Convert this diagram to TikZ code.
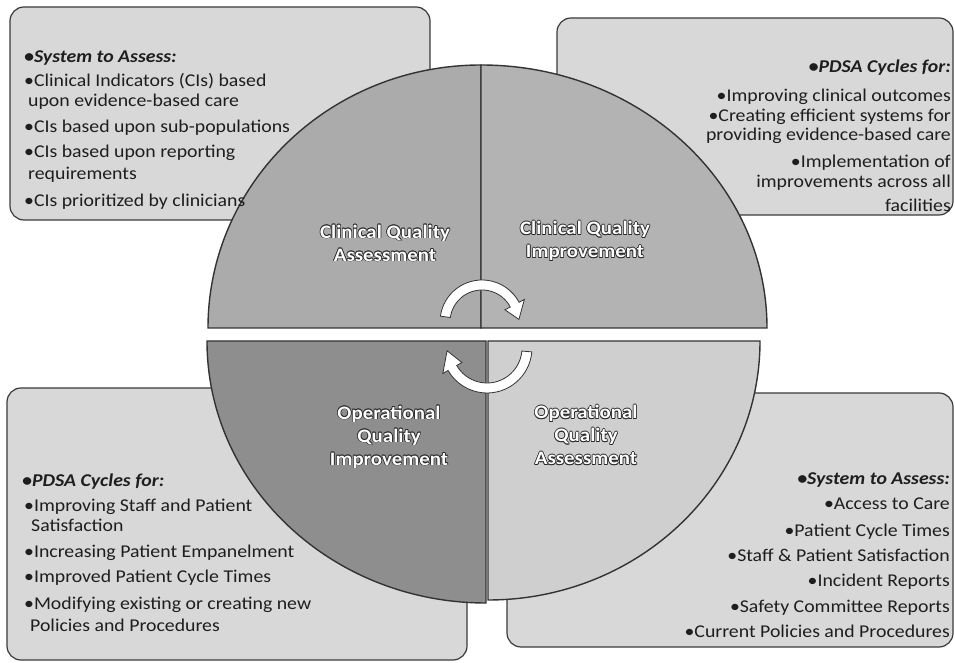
\documentclass[tikz,border=0pt]{standalone}
\usepackage{fontspec}
\setmainfont{Carlito}[FakeStretch=1.1]
\usetikzlibrary{calc}

\definecolor{boxfill}{HTML}{D8D8D8}
\definecolor{boxline}{HTML}{3A3A3A}
\definecolor{qca}{HTML}{ABABAB}
\definecolor{qci}{HTML}{B3B3B3}
\definecolor{qoi}{HTML}{8E8E8E}
\definecolor{qoa}{HTML}{CFCFCF}
\definecolor{inktext}{HTML}{1E1E1E}
\definecolor{rimc}{HTML}{2A2A2A}

% white lettering with a dark rim
\newcommand{\rim}[1]{%
  \leavevmode\setbox0=\hbox{#1}%
  \rlap{\color{rimc}\kern-0.7pt\copy0}%
  \rlap{\color{rimc}\kern0.7pt\copy0}%
  \rlap{\color{rimc}\raise0.7pt\copy0}%
  \rlap{\color{rimc}\lower0.7pt\copy0}%
  \rlap{\color{rimc}\kern-0.5pt\raise0.5pt\copy0}%
  \rlap{\color{rimc}\kern0.5pt\raise0.5pt\copy0}%
  \rlap{\color{rimc}\kern-0.5pt\lower0.5pt\copy0}%
  \rlap{\color{rimc}\kern0.5pt\lower0.5pt\copy0}%
  \box0}

\tikzset{
  infobox/.style={draw=boxline, line width=1.2pt, fill=boxfill, rounded corners=14pt},
  quad/.style={draw=black!80, line width=1.4pt},
  txt/.style={inner sep=0pt, text=inktext, font=\fontsize{18}{20}\selectfont},
  hdr/.style={txt, font=\fontsize{18}{20}\selectfont\bfseries\itshape},
  qlabel/.style={text=white, align=center, font=\fontsize{19}{23}\selectfont\bfseries},
  cyc/.style={fill=white, draw=black!80, line width=0.8pt}
}

\begin{document}
\begin{tikzpicture}[x=1pt,y=1pt]
    \useasboundingbox (0,0) rectangle (955,663);
    % boxes behind the wheel
    \draw[infobox] (10,656) rectangle (430,443);
    \draw[infobox] (557,645) rectangle (953,448);
    \draw[infobox] (7,275) rectangle (467,3);
    \draw[infobox] (507,270) rectangle (953,16);
    % wheel quadrants
    \coordinate (up) at (481,335);
    \coordinate (dl) at (486,322);
    \coordinate (dr) at (488,322);
    \filldraw[quad, fill=qca] (up) -- ++(-273,0) arc[start angle=180, end angle=90, x radius=273, y radius=263] -- cycle;
    \filldraw[quad, fill=qci] (up) -- ++(0,263) arc[start angle=90, end angle=0, x radius=286, y radius=263] -- cycle;
    \filldraw[quad, fill=qoi] (dl) -- ++(-279,0) arc[start angle=180, end angle=270, x radius=279, y radius=262] -- cycle;
    \filldraw[quad, fill=qoa] (dr) -- ++(0,-259) arc[start angle=270, end angle=360, x radius=272, y radius=259] -- cycle;
    % cycle arrows
    \coordinate (cyctop) at (482,341);
    \coordinate (cycbot) at (487,315);
    \filldraw[cyc] ([shift={(172:42)}]cyctop) arc[start angle=172, end angle=28, radius=42]
      -- ([shift={(28:48)}]cyctop) -- ([shift={(4:37)}]cyctop) -- ([shift={(28:26)}]cyctop)
      -- ([shift={(28:32)}]cyctop) arc[start angle=28, end angle=172, radius=32] -- cycle;
    \filldraw[cyc] ([shift={(-5:45)}]cycbot) arc[start angle=-5, end angle=-150, radius=45]
      -- ([shift={(-150:51)}]cycbot) -- ([shift={(-176:40)}]cycbot) -- ([shift={(-150:29)}]cycbot)
      -- ([shift={(-150:35)}]cycbot) arc[start angle=-150, end angle=-5, radius=35] -- cycle;
    % quadrant names
    \node[qlabel] (cqa) at (385,420) {\rim{Clinical Quality}\\\rim{Assessment}};
    \node[qlabel] (cqi) at (585,422) {\rim{Clinical Quality}\\\rim{Improvement}};
    \node[qlabel] (oqi) at (389,226) {\rim{Operational}\\\rim{Quality}\\\rim{Improvement}};
    \node[qlabel] (oqa) at (586,228) {\rim{Operational}\\\rim{Quality}\\\rim{Assessment}};
    % top left box
    \node[hdr, anchor=base west] (tlh)  at (24,600) {•System to Assess:};
    \node[txt, anchor=base west] (tl1)  at (24,576) {•Clinical Indicators (CIs) based};
    \node[txt, anchor=base west] (tl1b) at (28,556) {upon evidence-based care};
    \node[txt, anchor=base west] (tl2)  at (24,530) {•CIs based upon sub-populations};
    \node[txt, anchor=base west] (tl3)  at (24,505) {•CIs based upon reporting};
    \node[txt, anchor=base west] (tl3b) at (28,483) {requirements};
    \node[txt, anchor=base west] (tl4)  at (24,456) {•CIs prioritized by clinicians};
    % top right box
    \node[hdr, anchor=base east] (trh)  at (951,590) {•PDSA Cycles for:};
    \node[txt, anchor=base east] (tr1)  at (951,561) {•Improving clinical outcomes};
    \node[txt, anchor=base east] (tr2)  at (951,541) {•Creating efficient systems for};
    \node[txt, anchor=base east] (tr2b) at (951,522) {providing evidence-based care};
    \node[txt, anchor=base east] (tr3)  at (951,495) {•Implementation of};
    \node[txt, anchor=base east] (tr3b) at (951,475) {improvements across all};
    \node[txt, anchor=base east] (tr3c) at (951,451) {facilities};
    % bottom left box
    \node[hdr, anchor=base west] (blh)  at (22,176) {•PDSA Cycles for:};
    \node[txt, anchor=base west] (bl1)  at (24,151) {•Improving Staff and Patient};
    \node[txt, anchor=base west] (bl1b) at (31,131) {Satisfaction};
    \node[txt, anchor=base west] (bl2)  at (24,105) {•Increasing Patient Empanelment};
    \node[txt, anchor=base west] (bl3)  at (24,80)  {•Improved Patient Cycle Times};
    \node[txt, anchor=base west] (bl4)  at (24,53)  {•Modifying existing or creating new};
    \node[txt, anchor=base west] (bl4b) at (30,31)  {Policies and Procedures};
    % bottom right box
    \node[hdr, anchor=base east] (brh)  at (950,178) {•System to Assess:};
    \node[txt, anchor=base east] (br1)  at (950,153) {•Access to Care};
    \node[txt, anchor=base east] (br2)  at (950,126) {•Patient Cycle Times};
    \node[txt, anchor=base east] (br3)  at (950,101) {•Staff \& Patient Satisfaction};
    \node[txt, anchor=base east] (br4)  at (950,76)  {•Incident Reports};
    \node[txt, anchor=base east] (br5)  at (950,50)  {•Safety Committee Reports};
    \node[txt, anchor=base east] (br6)  at (950,25)  {•Current Policies and Procedures};
\end{tikzpicture}
\end{document}
